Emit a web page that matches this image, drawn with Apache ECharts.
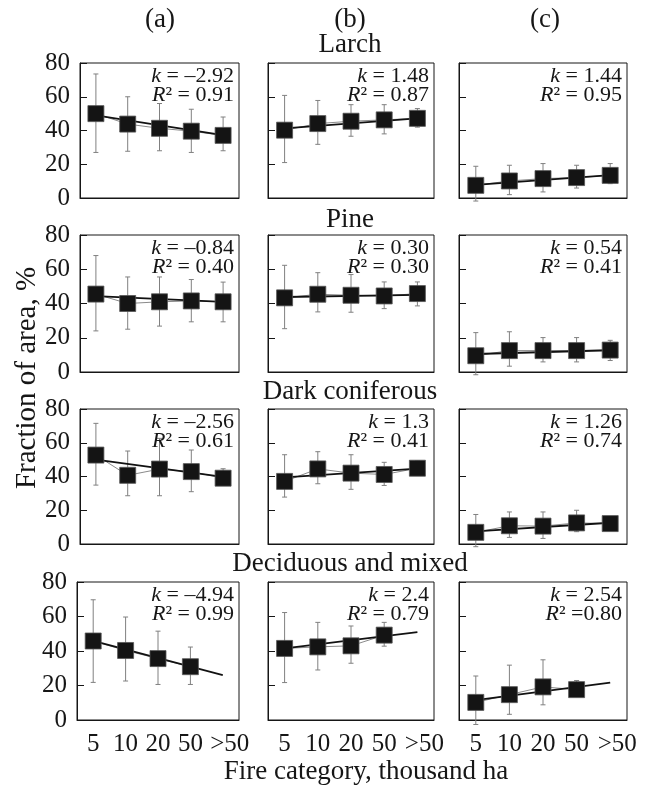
<!DOCTYPE html>
<html>
<head>
<meta charset="utf-8">
<script src="https://cdn.jsdelivr.net/npm/echarts/dist/echarts.min.js"></script>
<style>
  html, body { margin: 0; padding: 0; background: #fff; }
  #chart { width: 645px; height: 786px; }
</style>
</head>
<body>
<div id="chart"></div>
<script>
// fire size classes, thousand ha
const categories = ['5', '10', '20', '50', '>50'];
const columnLabels = ['(a)', '(b)', '(c)'];
const groupNames = ['Larch', 'Pine', 'Dark coniferous', 'Deciduous and mixed'];

// each group: three panels (a), (b), (c)
const larchMean = [[50, 43.8, 41.3, 39.6, 37.1], [40.2, 44.1, 45.5, 46.3, 47.2], [7.5, 10.1, 11.5, 12.1, 13.4]];
const larchLow = [[27, 27.7, 28, 27, 28], [21, 31.8, 36.6, 38, 42], [-1.8, 2, 3.6, 5.9, 8.5]];
const larchHigh = [[73.5, 60, 56, 52.6, 48], [60.8, 57.8, 55.3, 55.3, 53], [18.8, 19.4, 20.4, 19.4, 20.4]];
const larchTrend = [[49, 37.3], [41.3, 47.2], [7.8, 13.6]];
const larchK = ['–2.92', '1.48', '1.44'];
const larchR2 = ['= 0.91', '= 0.87', '= 0.95'];

const pineMean = [[45.5, 40, 41, 41.5, 41], [43.3, 45.4, 44.8, 44.4, 45.8], [9.5, 12.5, 12.5, 12.5, 12.8]];
const pineLow = [[24, 25, 26.8, 29.3, 29.3], [25.3, 35.1, 34.9, 37, 38.6], [-1.6, 3.4, 5.9, 5.9, 6.7]];
const pineHigh = [[68, 55.5, 55.5, 54, 52.5], [62.3, 58, 56.9, 52.6, 52.6], [23, 23.5, 20.1, 20.1, 18.5]];
const pineTrend = [[44.3, 41], [43.8, 45], [10.5, 12.7]];
const pineK = ['–0.84', '0.30', '0.54'];
const pineR2 = ['= 0.40', '= 0.30', '= 0.41'];

const darkMean = [[52.7, 40.7, 44.4, 42.9, 39], [37.1, 44.5, 42, 41.2, 44.9], [6.9, 10.8, 10.6, 12.5, 12.1]];
const darkLow = [[34.9, 28.6, 28.6, 31, 35], [27.8, 35.7, 32.4, 34.7, 43.5], [-1.6, 3.9, 3.3, 7.3, 10]];
const darkHigh = [[71.5, 55.1, 62.6, 55.7, 44.6], [52.9, 54.7, 52.9, 48.4, 49.2], [17.5, 19, 19, 20, 15]];
const darkTrend = [[50, 39.8], [39.5, 44.7], [7.5, 12.6]];
const darkK = ['–2.56', '1.3', '1.26'];
const darkR2 = ['= 0.61', '= 0.41', '= 0.74'];

const decidMean = [[45.8, 40.3, 35.6, 30.9, null], [41.5, 42.4, 43, 49.2, null], [10.2, 14.7, 19.2, 17.6, null]];
const decidLow = [[21.8, 22.6, 20.6, 20.6, null], [21.7, 29, 32.9, 42.8, null], [-2.6, 3.3, 8.8, 14.1, null]];
const decidHigh = [[69.7, 59.7, 51.5, 42.3, null], [62.3, 56.6, 54.5, 56.6, null], [25.5, 31.8, 34.9, 22.9, null]];
const decidTrend = [[45.8, 26], [41.5, 51], [11.5, 21.7]];
const decidK = ['–4.94', '2.4', '2.54'];
const decidR2 = ['= 0.99', '= 0.79', '=0.80'];

const means = [larchMean, pineMean, darkMean, decidMean];
const lows = [larchLow, pineLow, darkLow, decidLow];
const highs = [larchHigh, pineHigh, darkHigh, decidHigh];
const trends = [larchTrend, pineTrend, darkTrend, decidTrend];
const kTexts = [larchK, pineK, darkK, decidK];
const r2Texts = [larchR2, pineR2, darkR2, decidR2];

// panel layout (px)
const colLeft = [80, 268, 459];
const colWidth = [159, 166, 168];
const rowTop = [63, 235, 409, 582];
const rowHeight = [135, 137, 135, 138];

const FONT = 'Liberation Serif';
const INK = '#161616';

const grids = [], xAxes = [], yAxes = [], series = [];
const graphics = [];

function renderErr(params, api) {
  const x = api.value(0);
  const lo = api.coord([x, api.value(1)]);
  const hi = api.coord([x, api.value(2)]);
  const w = 2.5;
  const st = { stroke: '#808080', lineWidth: 1 };
  return {
    type: 'group',
    children: [
      { type: 'line', shape: { x1: lo[0], y1: lo[1], x2: hi[0], y2: hi[1] }, style: st },
      { type: 'line', shape: { x1: hi[0] - w, y1: hi[1], x2: hi[0] + w, y2: hi[1] }, style: st },
      { type: 'line', shape: { x1: lo[0] - w, y1: lo[1], x2: lo[0] + w, y2: lo[1] }, style: st }
    ]
  };
}

for (let r = 0; r < 4; r++) {
  for (let c = 0; c < 3; c++) {
    const i = grids.length;
    const left = (r === 3 && c === 0) ? 77 : colLeft[c];
    const width = (r === 3 && c === 0) ? 162 : colWidth[c];
    grids.push({
      left: left, top: rowTop[r], width: width, height: rowHeight[r],
      show: true, borderColor: INK, borderWidth: 1
    });
    xAxes.push({
      type: 'category', gridIndex: i, data: categories, boundaryGap: true,
      axisLine: { lineStyle: { color: INK, width: 1 } },
      axisTick: { inside: true, length: 7, lineStyle: { color: INK } },
      axisLabel: {
        show: r === 3, interval: 0, margin: 12,
        fontFamily: FONT, fontSize: 25, color: INK,
        formatter: v => (v === '>50' ? '{g|' + v + '}' : v),
        rich: { g: { fontFamily: FONT, fontSize: 25, color: INK, padding: [0, 0, 0, 14] } }
      },
      splitLine: { show: false }
    });
    yAxes.push({
      type: 'value', gridIndex: i, min: 0, max: 80, interval: 20,
      axisLine: { show: true, lineStyle: { color: INK, width: 1 } },
      axisTick: { show: true, inside: true, length: 7, lineStyle: { color: INK } },
      axisLabel: {
        show: c === 0, margin: 10,
        fontFamily: FONT, fontSize: 25, color: INK
      },
      splitLine: { show: false }
    });

    const mean = means[r][c];
    const low = lows[r][c];
    const high = highs[r][c];
    const tr = trends[r][c];

    // thin line joining the means
    series.push({
      type: 'line', xAxisIndex: i, yAxisIndex: i, data: mean,
      symbol: 'none', silent: true, z: 2,
      lineStyle: { color: '#8a8a8a', width: 1 }
    });
    // error bars
    const errData = [];
    mean.forEach((m, j) => { if (m !== null) errData.push([j, low[j], high[j]]); });
    series.push({
      type: 'custom', xAxisIndex: i, yAxisIndex: i, data: errData,
      renderItem: renderErr, encode: { x: 0, y: [1, 2] }, clip: false, z: 1, silent: true
    });
    // regression line
    const trendData = categories.map(() => null);
    trendData[0] = tr[0];
    trendData[categories.length - 1] = tr[1];
    series.push({
      type: 'line', xAxisIndex: i, yAxisIndex: i, data: trendData, connectNulls: true,
      symbol: 'none', silent: true, z: 3,
      lineStyle: { color: '#111', width: 1.8 }
    });
    // squares
    series.push({
      type: 'scatter', xAxisIndex: i, yAxisIndex: i, data: mean,
      symbol: 'rect', symbolSize: 16, z: 4, silent: true,
      itemStyle: { color: '#141414', opacity: 1, borderColor: '#555', borderWidth: 0.8 }
    });

    // k and R2 annotation
    const rx = left + width - 5;
    graphics.push({
      type: 'text', x: rx, y: rowTop[r] + 13, z: 10,
      style: {
        text: '{i|k} = ' + kTexts[r][c],
        align: 'right', verticalAlign: 'middle',
        fontFamily: FONT, fontSize: 22, fill: INK,
        rich: { i: { fontFamily: FONT, fontSize: 22, fontStyle: 'italic', fill: INK } }
      }
    });
    graphics.push({
      type: 'text', x: rx, y: rowTop[r] + 32, z: 10,
      style: {
        text: '{i|R}² ' + r2Texts[r][c],
        align: 'right', verticalAlign: 'middle',
        fontFamily: FONT, fontSize: 22, fill: INK,
        rich: { i: { fontFamily: FONT, fontSize: 22, fontStyle: 'italic', fill: INK } }
      }
    });
  }
}

// column letters and group names
const colCenter = [160, 350, 545];
columnLabels.forEach((t, c) => {
  graphics.push({
    type: 'text', x: colCenter[c], y: 20,
    style: { text: t, align: 'center', verticalAlign: 'middle', fontFamily: FONT, fontSize: 27, fill: INK }
  });
});
const groupY = [45, 220, 392, 564];
groupNames.forEach((t, r) => {
  graphics.push({
    type: 'text', x: 350, y: groupY[r],
    style: { text: t, align: 'center', verticalAlign: 'middle', fontFamily: FONT, fontSize: 27, fill: INK }
  });
});
// axis titles
graphics.push({
  type: 'text', x: 27, y: 378, rotation: Math.PI / 2,
  style: { text: 'Fraction of area, %', align: 'center', verticalAlign: 'middle', fontFamily: FONT, fontSize: 29, fill: INK }
});
graphics.push({
  type: 'text', x: 366, y: 772,
  style: { text: 'Fire category, thousand ha', align: 'center', verticalAlign: 'middle', fontFamily: FONT, fontSize: 27, fill: INK }
});

const chart = echarts.init(document.getElementById('chart'));
chart.setOption({
  animation: false,
  backgroundColor: '#fff',
  grid: grids,
  xAxis: xAxes,
  yAxis: yAxes,
  series: series,
  graphic: graphics
});
</script>
</body>
</html>
